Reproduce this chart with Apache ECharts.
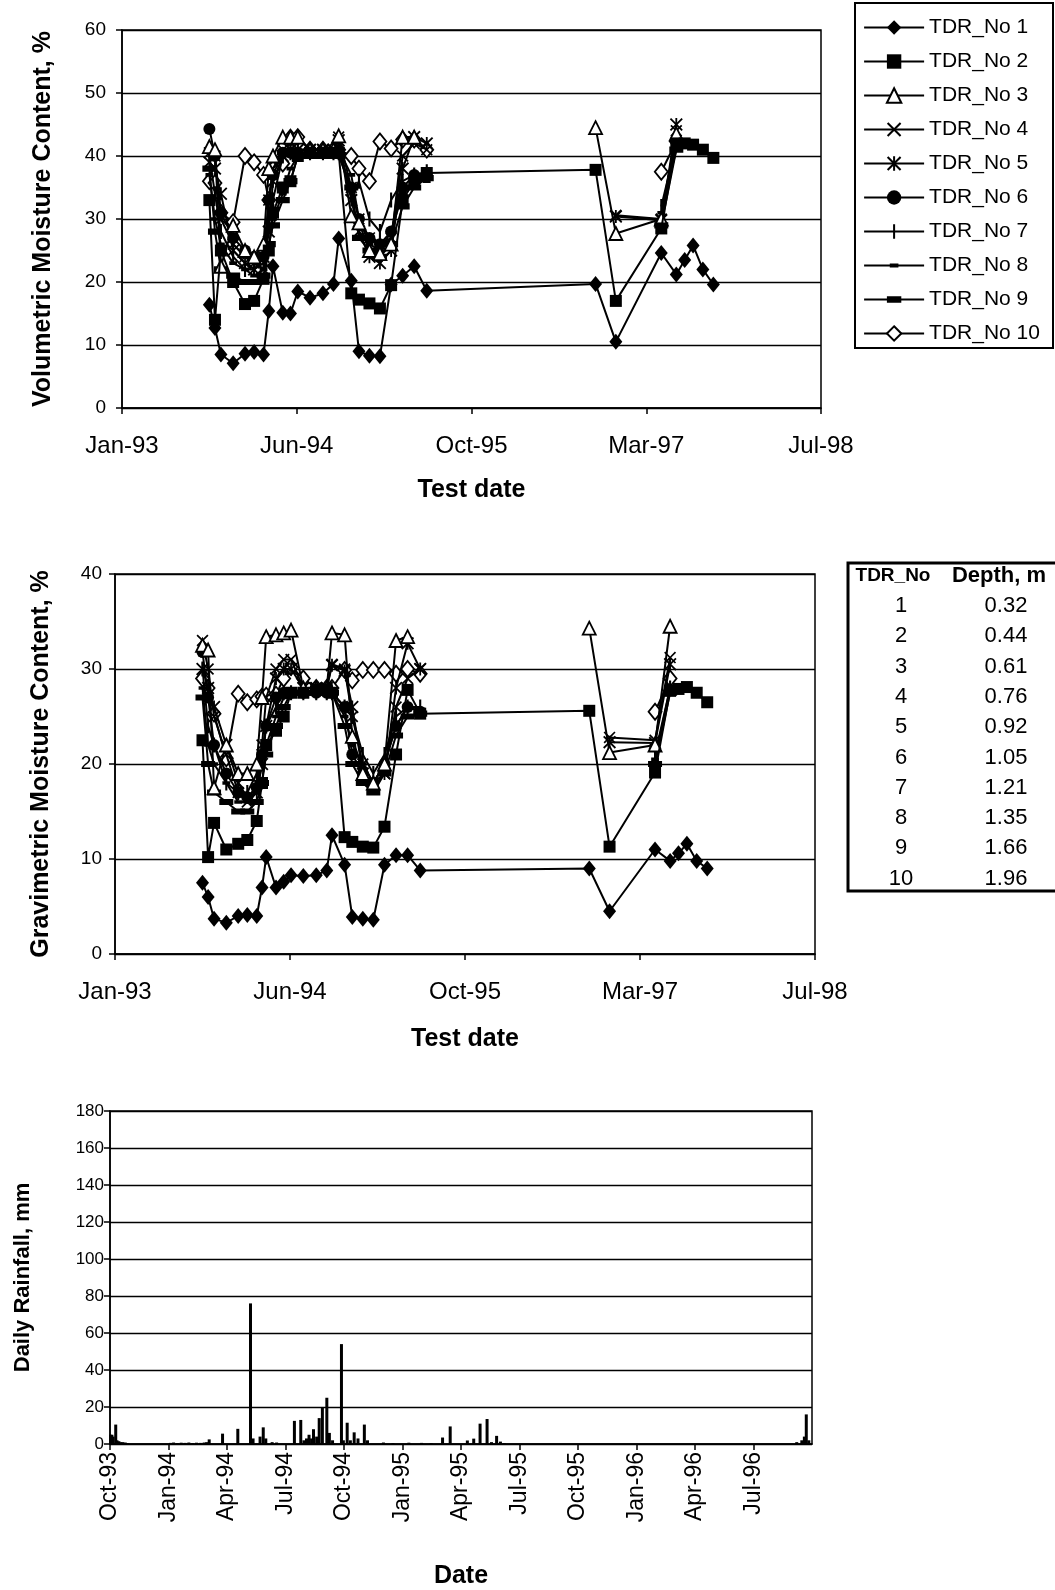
<!DOCTYPE html>
<html>
<head>
<meta charset="utf-8">
<script src="https://cdn.jsdelivr.net/npm/echarts@6/dist/echarts.min.js"></script>
<style>
html,body{margin:0;padding:0;background:#fff;}
#c{width:1055px;height:1590px;}
</style>
</head>
<body>
<div id="c"></div>
<script>
// ---------------- DATA ----------------
const testDates = ['1993-10-02','1993-10-18','1993-11-04','1993-12-09','1994-01-12','1994-02-07','1994-03-06','1994-03-21','1994-04-02','1994-04-30','1994-05-22','1994-06-12','1994-07-17','1994-08-23','1994-09-22','1994-10-07','1994-11-12','1994-12-04','1995-01-03','1995-02-02','1995-03-06','1995-04-08','1995-05-11','1995-06-16','1996-10-11','1996-12-08','1997-04-17','1997-05-30','1997-06-23','1997-07-17','1997-08-14','1997-09-13'];

// Volumetric moisture content, %
const vol1  = [16.4,12.7,8.5,7.1,8.6,8.9,8.5,15.4,22.5,15.1,15.0,18.5,17.5,18.2,19.7,26.9,20.2,9.0,8.3,8.2,19.6,21.0,22.5,18.6,19.7,10.5,24.6,21.2,23.5,25.8,22.0,19.6];
const vol2  = [33,14,25,20,16.5,17,20.5,25,31,35,36,40,40.5,40.5,40.5,40.5,18.2,17.2,16.6,15.8,19.5,33,36,37.3,37.8,17,28.5,42,42,41.8,41,39.7];
const vol3  = [41.5,41,22.5,29,25,24,26,38,40,43,43,43,41,41,41,43.2,30.5,29.4,25,24.5,26,43,43,null,44.5,27.7,30,43.5,null,null,null,null];
const vol4  = [40.5,40,30,26,24,23,22,33,38,41,41,41,41,41,41,43,35,30,27,26,27,40,42,41,null,30.6,30,44,null,null,null,null];
const vol5  = [39,38,34,25,23,22,24,28,36,40,41,41,41,41,41,42.5,33,28,24,23,25,38,43,42,null,30.4,29.8,45,null,null,null,null];
const vol6  = [44.3,40,31,27,25,24,24,33,37,40.5,40.5,40.5,40.5,40.5,40.5,40.5,35,30,27,26,28,35,37,37,null,null,null,null,null,null,null,null];
const vol7  = [40,34,28,24,22,22,23,30,33,40,40.5,40.5,40.5,40.5,40.5,40.5,34,36,30,28,33,36,37,37.5,null,null,32,42,null,null,null,null];
const vol8  = [37,30,26,23,22,21,22,28,30,34,38,40,40,40,40,41,37,30,26,25,28,34,36,36,null,null,31,41,null,null,null,null];
const vol9  = [38,28,22,21,20,20,21,26,29,33,36,40,40,40,40,40,35,27,25,24,26,32,35,36.5,null,null,29,41,null,null,null,null];
const vol10 = [36,35.7,31,29.5,40,39,37,33,38,38.8,42.9,43,41,41,41,41,40,38,36,42.3,41.2,42.6,42.6,41,null,null,37.5,42.3,null,null,null,null];

// Gravimetric moisture content, %
const grav1  = [7.5,6.0,3.7,3.3,4.0,4.1,4.0,7.0,10.2,7.0,7.6,8.3,8.2,8.3,8.8,12.5,9.4,3.9,3.7,3.6,9.4,10.4,10.4,8.8,9.0,4.5,11.0,9.8,10.6,11.6,9.8,9.0];
const grav2  = [22.5,10.2,13.8,11,11.6,12,14,18,22,23.5,25,27.5,27.5,27.8,27.8,27.5,12.3,11.8,11.3,11.2,13.4,21,27.8,25.3,25.6,11.3,19.1,27.7,27.9,28.1,27.5,26.5];
const grav3  = [32.5,32,17.5,22,19,19,20,27,33.4,33.6,33.8,34.1,28,28,28,33.8,33.6,22.9,19,18,20,33,33.4,null,34.3,21.2,22,34.5,null,null,null,null];
const grav4  = [33,30,25,21,17,16,18,22,27,30,31,31,28,28,28,30.5,30,25,20,18,19,26,29,30,null,22.8,22.5,31.2,null,null,null,null];
const grav5  = [30,28,26,22,18,16.5,17,20,24,29,30,30,28,28,28,30.4,29.8,26,19,17.5,19,28,32.7,30,null,22.3,22.2,30.5,null,null,null,null];
const grav6  = [31.8,27,22,19,17,16.5,17.5,21,24,27,27.5,27.5,27.5,27.5,27.5,27.5,26,21,19,18,20,24,26,25.5,null,null,null,null,null,null,null,null];
const grav7  = [30,24,22,18,17,17,19,21,24,26,27.5,27.5,27.5,27.5,27.5,27.5,26,25,21,19,21,25,26,26,null,null,21,28,null,null,null,null];
const grav8  = [28,22,20,18,16,16,17,20,22,25,27,27.5,27.5,27.5,27.5,27.5,25,22,20,18,20,24,26,25.5,null,null,20.5,28,null,null,null,null];
const grav9  = [27,20,17,16,15,15,16,18,21,24,26,27.5,27.5,27.5,27.5,27.5,24,20,18,17,19,23,25,25.3,null,null,20,27.5,null,null,null,null];
const grav10 = [29,28,25.3,20.6,27.4,26.5,26.8,27.1,27.2,27.3,29,30.2,29,28,28,28,29.9,28.8,29.9,29.9,29.9,29.5,30,29.5,null,null,25.5,29,null,null,null,null];

const seriesNames = ['TDR_No 1','TDR_No 2','TDR_No 3','TDR_No 4','TDR_No 5','TDR_No 6','TDR_No 7','TDR_No 8','TDR_No 9','TDR_No 10'];
const tdrNos = ['1','2','3','4','5','6','7','8','9','10'];
const depths = ['0.32','0.44','0.61','0.76','0.92','1.05','1.21','1.35','1.66','1.96'];

// Daily rainfall, mm
const rainDates = ['1993-10-02','1993-10-04','1993-10-06','1993-10-10','1993-10-12','1993-10-15','1993-10-18','1993-10-21','1993-10-25','1993-10-29',
 '1994-01-04','1994-01-09','1994-01-15','1994-01-21','1994-01-27','1994-02-02','1994-02-08','1994-02-14','1994-02-20','1994-02-26','1994-03-02','1994-03-06',
 '1994-03-27','1994-04-20','1994-05-10','1994-05-14','1994-05-25','1994-05-30','1994-06-03','1994-06-13','1994-06-20',
 '1994-07-18','1994-07-28','1994-08-02','1994-08-06','1994-08-10','1994-08-14','1994-08-17','1994-08-22','1994-08-26','1994-08-31','1994-09-07','1994-09-11','1994-09-16','1994-09-30',
 '1994-10-03','1994-10-09','1994-10-14','1994-10-20','1994-10-26','1994-11-05','1994-11-10',
 '1994-12-05','1994-12-20','1995-01-14','1995-02-03','1995-02-18',
 '1995-03-08','1995-03-20','1995-04-16','1995-04-26','1995-05-06','1995-05-17','1995-05-24','1995-06-01','1995-06-07','1995-06-13',
 '1996-09-15','1996-09-23','1996-09-27','1996-09-30','1996-10-04'];
const rainMm = [5,5,4,10.5,2,1.5,1,1,0.8,0.5,
 0.6,0.8,0.5,0.7,0.6,0.8,0.5,0.7,0.6,0.8,1,2.5,
 5.6,8.2,76,3,4,9,3,1,0.8,
 12.5,13,2,3,5,3,8,4,14,19.6,25,6,2,54,
 2,11.5,2,6.3,3,10.5,2,
 0.8,0.5,0.7,0.6,0.5,
 3.5,9.5,1.9,2.9,11,13.5,1,4.4,1.3,0.5,
 1,2,4,16,2];

// ---------------- HELPERS ----------------
const MONTHS = ['Jan','Feb','Mar','Apr','May','Jun','Jul','Aug','Sep','Oct','Nov','Dec'];
function dayNum(s){ const p = s.split('-').map(Number); return Date.UTC(p[0],p[1]-1,p[2])/864e5; }
const TEST_ORIGIN = dayNum('1993-01-25');
const RAIN_ORIGIN = dayNum('1993-10-01');
function monYY(origin, v){ const dt = new Date((origin+v)*864e5); return MONTHS[dt.getUTCMonth()]+'-'+String(dt.getUTCFullYear()).slice(2); }

const X_PATH = 'path://M0,1 L1,0 L5,4 L9,0 L10,1 L6,5 L10,9 L9,10 L5,6 L1,10 L0,9 L4,5 Z';
const AST_PATH = 'path://M0,1 L1,0 L5,4 L9,0 L10,1 L6,5 L10,9 L9,10 L5,6 L1,10 L0,9 L4,5 Z M4.3,0 L5.7,0 L5.7,3.3 L5,4 L4.3,3.3 Z M4.3,10 L5.7,10 L5.7,6.7 L5,6 L4.3,6.7 Z';
// square-bounded paths (corner points fix the box) so the legend keeps the shape
const TICK_PATH = 'path://M0,0 L0.01,0 Z M10,10 L9.99,10 Z M4.3,0 L5.7,0 L5.7,10 L4.3,10 Z';
const DASH_PATH = 'path://M0,0 L0.01,0 Z M10,10 L9.99,10 Z M2,3.6 L8,3.6 L8,6.4 L2,6.4 Z';
const BAR_PATH  = 'path://M0,0 L0.01,0 Z M10,10 L9.99,10 Z M0,2.8 L10,2.8 L10,7.2 L0,7.2 Z';
const styles = [
  {symbol:'diamond', size:[13,16], fill:'#000', bw:0},
  {symbol:'rect', size:12, fill:'#000', bw:0},
  {symbol:'triangle', size:13, fill:'#fff', bw:1.8},
  {symbol:X_PATH, size:12, fill:'#000', bw:0},
  {symbol:AST_PATH, size:13, fill:'#000', bw:0},
  {symbol:'circle', size:12, fill:'#000', bw:0},
  {symbol:TICK_PATH, size:15, fill:'#000', bw:0},
  {symbol:DASH_PATH, size:13, fill:'#000', bw:0},
  {symbol:BAR_PATH, size:14, fill:'#000', bw:0},
  {symbol:'diamond', size:[13,16], fill:'#fff', bw:1.8}
];
const volSets = [vol1,vol2,vol3,vol4,vol5,vol6,vol7,vol8,vol9,vol10];
const gravSets = [grav1,grav2,grav3,grav4,grav5,grav6,grav7,grav8,grav9,grav10];

function lineSeries(k, vals, axisIdx){
  const s = styles[k];
  return {
    type:'line', name: seriesNames[k], xAxisIndex:axisIdx, yAxisIndex:axisIdx,
    data: testDates.map((d,i)=>[dayNum(d)-TEST_ORIGIN, vals[i]==null?'-':vals[i]]),
    symbol:s.symbol, symbolSize:s.size, showSymbol:true, connectNulls:false,
    lineStyle:{color:'#000', width:2},
    itemStyle:{color:s.fill, borderColor:'#000', borderWidth:s.bw},
    emphasis:{disabled:true}, animation:false, z: 10-k
  };
}

const FONT = 'Liberation Sans, Arial, sans-serif';
const axisTitle = {color:'#000', fontFamily:FONT, fontSize:25, fontWeight:'bold'};

function dateAxis(gi, gap){
  return {type:'value', gridIndex:gi, min:0, max:2000, interval:500,
    name:'Test date', nameLocation:'middle', nameGap:gap, nameTextStyle:axisTitle,
    axisLine:{show:true, onZero:false, lineStyle:{color:'#000', width:1.5}},
    axisTick:{show:true, length:6, lineStyle:{color:'#000', width:1.5}},
    axisLabel:{margin:26, color:'#000', fontFamily:FONT, fontSize:24, formatter:v=>monYY(TEST_ORIGIN,v)},
    splitLine:{show:false}};
}
function valAxis(gi, max, interval, name, gap, fs, margin, titleSize){
  return {type:'value', gridIndex:gi, min:0, max:max, interval:interval,
    name:name, nameLocation:'middle', nameGap:gap, nameRotate:90,
    nameTextStyle:Object.assign({}, axisTitle, {fontSize:titleSize}),
    axisLine:{show:true, lineStyle:{color:'#000', width:1.5}},
    axisTick:{show:true, length:6, lineStyle:{color:'#000', width:1.5}},
    axisLabel:{margin:margin, color:'#000', fontFamily:FONT, fontSize:fs},
    splitLine:{show:true, lineStyle:{color:'#000', width:1.3}}};
}

const series = [];
for(let k=9;k>=0;k--) series.push(lineSeries(k, volSets[k], 0));
for(let k=9;k>=0;k--) series.push(lineSeries(k, gravSets[k], 1));
series.push({type:'bar', xAxisIndex:2, yAxisIndex:2, barWidth:3, animation:false,
  data: rainDates.map((d,i)=>[dayNum(d)-RAIN_ORIGIN, rainMm[i]]),
  itemStyle:{color:'#000'}, emphasis:{disabled:true}});

// table graphic
const ROW0 = 606, ROWH = 30.3;
const tableEls = [
  {type:'rect', shape:{x:848, y:563, width:230, height:328}, style:{fill:'#fff', stroke:'#000', lineWidth:3}},
  {type:'text', x:893, y:576, style:{text:'TDR_No', fill:'#000', font:'bold 19px '+FONT, textAlign:'center', textVerticalAlign:'middle'}},
  {type:'text', x:999, y:576, style:{text:'Depth, m', fill:'#000', font:'bold 22px '+FONT, textAlign:'center', textVerticalAlign:'middle'}}
];
tdrNos.forEach((t,i)=>{
  tableEls.push({type:'text', x:901, y:ROW0+i*ROWH, style:{text:t, fill:'#000', font:'22px '+FONT, textAlign:'center', textVerticalAlign:'middle'}});
  tableEls.push({type:'text', x:1006, y:ROW0+i*ROWH, style:{text:depths[i], fill:'#000', font:'22px '+FONT, textAlign:'center', textVerticalAlign:'middle'}});
});

const option = {
  backgroundColor:'#fff',
  animation:false,
  textStyle:{fontFamily:FONT},
  grid:[
    {left:122, top:30, width:699, height:378, show:true, borderColor:'#000', borderWidth:1.5, containLabel:false},
    {left:115, top:574, width:700, height:380, show:true, borderColor:'#000', borderWidth:1.5, containLabel:false},
    {left:110, top:1111, width:702, height:334, show:true, borderColor:'#000', borderWidth:1.5, containLabel:false}
  ],
  xAxis:[
    dateAxis(0, 70),
    dateAxis(1, 73),
    {type:'value', gridIndex:2, min:0, max:1104, interval:92,
      name:'Date', nameLocation:'middle', nameGap:120, nameTextStyle:axisTitle,
      axisLine:{show:true, onZero:false, lineStyle:{color:'#000', width:1.5}},
      axisTick:{show:true, length:6, lineStyle:{color:'#000', width:1.5}},
      axisLabel:{rotate:90, margin:8, showMaxLabel:false, color:'#000', fontFamily:FONT, fontSize:23,
        formatter:v=>(v%92===0 && v<1104)?monYY(RAIN_ORIGIN,v):''},
      splitLine:{show:false}}
  ],
  yAxis:[
    valAxis(0, 60, 10, 'Volumetric Moisture Content, %', 66, 19, 16, 25),
    valAxis(1, 40, 10, 'Gravimetric Moisture Content, %', 61, 19, 13, 25),
    valAxis(2, 180, 20, 'Daily Rainfall, mm', 76, 17, 6, 22)
  ],
  legend:{
    orient:'vertical', left:858, top:12, itemWidth:60, itemHeight:18, itemGap:13,
    textStyle:{color:'#000', fontFamily:FONT, fontSize:21},
    lineStyle:{color:'#000', width:2.2},
    data: seriesNames, selectedMode:false
  },
  graphic:[
    {type:'rect', shape:{x:855, y:3, width:198, height:345}, style:{fill:'#fff', stroke:'#000', lineWidth:2}, z:-1},
    {type:'group', children:tableEls}
  ],
  series: series
};
const chart = echarts.init(document.getElementById('c'), null, {renderer:'canvas'});
chart.setOption(option);
</script>
</body>
</html>
